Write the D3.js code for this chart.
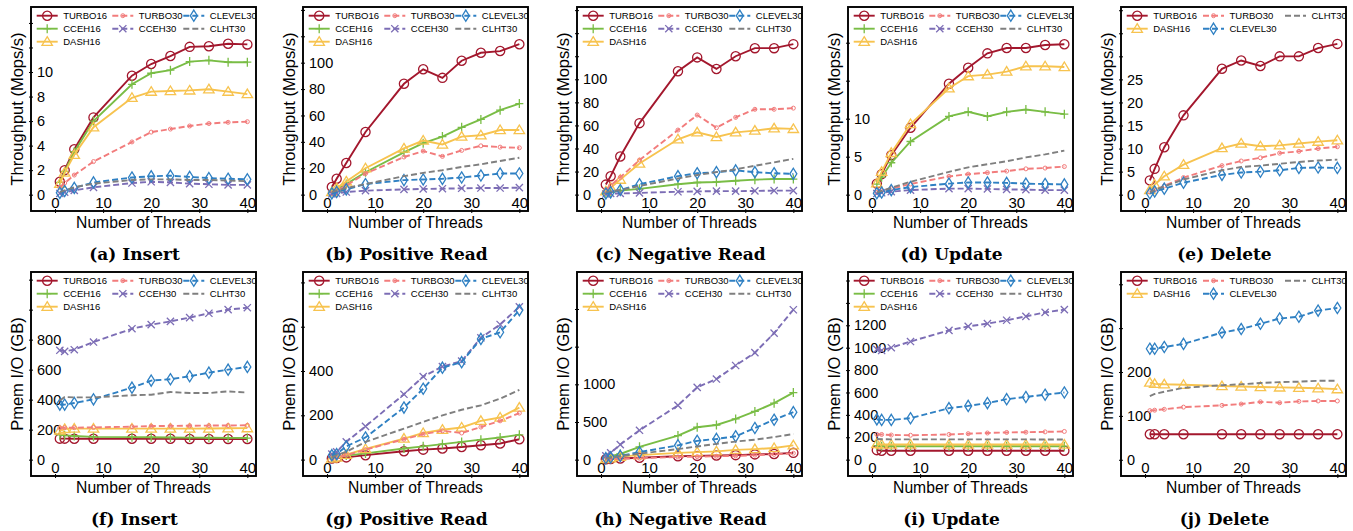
<!DOCTYPE html>
<html>
<head>
<meta charset="utf-8">
<script src="https://cdnjs.cloudflare.com/ajax/libs/d3/7.8.5/d3.min.js"></script>
<style>
  body { margin: 0; background: #fff; }
  svg text { font-family: "Liberation Sans", Arial, sans-serif; fill: #000; }
  .caption { font-family: "DejaVu Serif", serif; font-weight: bold; font-size: 17px; }
</style>
</head>
<body>
<svg id="chart"></svg>
<script>
//Data
const threads = [1, 2, 4, 8, 16, 20, 24, 28, 32, 36, 40];
const xTicks = [0, 10, 20, 30, 40];
const seriesNames = ["TURBO16", "CCEH16", "DASH16", "TURBO30", "CCEH30", "CLEVEL30", "CLHT30"];
const captions = ["(a) Insert", "(b) Positive Read", "(c) Negative Read", "(d) Update", "(e) Delete",
                  "(f) Insert", "(g) Positive Read", "(h) Negative Read", "(i) Update", "(j) Delete"];

// throughput (Mops/s) - one row per series, same order as seriesNames (null = not run)
const insertTput = [
    [1.05, 2.0, 3.7, 6.3, 9.7, 10.65, 11.3, 12.05, 12.1, 12.3, 12.25],
    [1.0, 1.9, 3.5, 6.0, 9.0, 9.9, 10.15, 10.85, 10.95, 10.8, 10.8],
    [0.9, 1.8, 3.25, 5.5, 7.9, 8.4, 8.45, 8.5, 8.6, 8.4, 8.2],
    [0.6, 0.95, 1.6, 2.7, 4.3, 5.1, 5.35, 5.6, 5.8, 5.9, 5.95],
    [0.1, 0.2, 0.35, 0.6, 0.95, 1.05, 1.0, 0.9, 0.85, 0.8, 0.8],
    [0.15, 0.3, 0.55, 1.0, 1.4, 1.5, 1.55, 1.45, 1.35, 1.3, 1.25],
    [0.2, 0.35, 0.6, 0.9, 1.2, 1.25, 1.25, 1.2, 1.2, 1.15, 1.1]
];
const posReadTput = [
    [5.8, 12, 24, 47.5, 84, 95, 88.5, 101.5, 107.5, 108.8, 114],
    [2, 4, 8, 17, 32, 39, 44, 51, 57, 64, 69],
    [2, 5, 10, 20, 35, 41, 38, 44, 45, 49, 49],
    [1, 3, 7, 16, 28.5, 33, 29, 33.5, 37, 36, 35.5],
    [0.5, 1, 2, 3, 4, 4.3, 4.5, 4.8, 5, 5, 5.3],
    [1, 2, 4, 8, 11, 11.5, 12, 13, 14.5, 16, 16],
    [2, 3, 5, 8, 14, 16.5, 18.5, 21, 23, 25.5, 28]
];
const negReadTput = [
    [8.7, 16, 33, 62, 107, 119, 109, 120, 127, 127, 130.5],
    [1, 2, 3.5, 5, 9, 10.5, 11, 12, 13, 13.5, 13.5],
    [3, 6, 13, 27, 48, 54, 50, 54, 55.5, 57.5, 57],
    [4, 8, 15, 30, 56, 69, 58, 67, 74, 74, 75],
    [0.5, 1, 1, 1.5, 2.5, 2.8, 3, 3, 3.2, 3.5, 3.5],
    [1, 2, 4, 9, 16, 18.5, 19.5, 21, 19.5, 18.5, 18],
    [2, 3, 4, 7.5, 14, 17, 19.5, 22, 25, 28, 31]
];
const updateTput = [
    [1.45, 2.7, 5.2, 8.8, 14.6, 16.7, 18.6, 19.3, 19.3, 19.7, 19.8],
    [1.4, 2.3, 4.2, 7.0, 10.3, 10.9, 10.3, 10.9, 11.2, 10.9, 10.6],
    [1.5, 3.0, 5.5, 9.3, 14.0, 15.6, 15.8, 16.2, 16.9, 16.9, 16.8],
    [0.3, 0.5, 0.8, 1.4, 2.4, 2.7, 2.9, 3.1, 3.4, 3.5, 3.7],
    [0.15, 0.25, 0.4, 0.6, 0.8, 0.8, 0.75, 0.7, 0.65, 0.6, 0.6],
    [0.2, 0.3, 0.6, 1.0, 1.45, 1.6, 1.6, 1.55, 1.45, 1.4, 1.35],
    [0.3, 0.5, 0.9, 1.7, 3.0, 3.6, 4.0, 4.4, 4.9, 5.3, 5.8]
];
const deleteTput = [
    [3.1, 5.6, 10.3, 17.2, 27.3, 29.1, 27.9, 30.0, 30.0, 31.8, 32.7],
    null,
    [1.0, 2.2, 4.0, 6.5, 10.1, 11.1, 10.5, 10.7, 11.1, 11.5, 11.8],
    [0.6, 1.0, 1.9, 3.7, 6.3, 7.3, 8.0, 9.0, 9.4, 10.0, 10.4],
    null,
    [0.3, 0.7, 1.3, 2.6, 4.3, 4.8, 5.0, 5.3, 5.8, 5.9, 5.8],
    [0.5, 1.0, 1.8, 3.3, 5.3, 6.0, 6.3, 6.7, 7.1, 7.4, 7.6]
];

// pmem I/O (GB)
const insertIO = [
    [140, 140, 139, 139, 139, 139, 139, 138, 138, 138, 138],
    [165, 162, 158, 152, 150, 149, 148, 147, 146, 145, 144],
    [195, 205, 207, 207, 207, 207, 207, 207, 208, 209, 210],
    [213, 213, 213, 215, 220, 224, 225, 226, 227, 228, 229],
    [729, 722, 733, 784, 873, 900, 922, 947, 976, 1000, 1013],
    [367, 367, 378, 402, 480, 527, 536, 556, 580, 600, 618],
    [395, 418, 415, 415, 429, 433, 451, 444, 444, 455, 447]
];
const posReadIO = [
    [5, 7, 10, 20, 38, 45, 50, 57, 65, 73, 92],
    [8, 12, 18, 28, 50, 60, 70, 80, 90, 100, 112],
    [5, 10, 22, 48, 95, 120, 135, 145, 175, 190, 235],
    [5, 10, 20, 45, 92, 115, 130, 120, 147, 175, 210],
    [25, 35, 80, 150, 295, 375, 420, 445, 550, 610, 690],
    [20, 25, 60, 100, 235, 320, 415, 440, 545, 575, 675],
    [10, 20, 35, 80, 140, 170, 200, 225, 245, 275, 315]
];
const negReadIO = [
    [5, 8, 15, 25, 45, 50, 55, 60, 70, 75, 90],
    [30, 45, 75, 170, 320, 430, 460, 540, 640, 750, 890],
    [10, 20, 40, 60, 90, 100, 110, 130, 140, 155, 190],
    [5, 8, 12, 20, 35, 40, 45, 50, 60, 70, 85],
    [50, 90, 200, 390, 720, 960, 1070, 1250, 1420, 1680, 1990],
    [20, 30, 50, 100, 190, 250, 275, 310, 420, 530, 630],
    [15, 25, 45, 80, 140, 175, 210, 240, 265, 300, 340]
];
const updateIO = [
    [85, 80, 80, 80, 80, 80, 80, 80, 80, 80, 80],
    [125, 120, 120, 120, 120, 120, 120, 120, 120, 120, 120],
    [140, 135, 135, 135, 135, 135, 135, 135, 135, 135, 135],
    [225, 225, 220, 218, 225, 232, 238, 243, 245, 248, 252],
    [985, 975, 1000, 1055, 1155, 1190, 1215, 1245, 1280, 1315, 1340],
    [360, 355, 355, 370, 460, 480, 505, 540, 560, 580, 600],
    [185, 182, 181, 181, 181, 181, 181, 181, 181, 180, 180]
];
const deleteIO = [
    [58, 58, 58, 58, 58, 58, 58, 58, 58, 58, 58],
    null,
    [176, 173, 172, 171, 168, 167, 166, 165, 164, 163, 161],
    [112, 113, 115, 120, 124, 127, 132, 130, 133, 134, 134],
    null,
    [253, 253, 257, 264, 290, 298, 310, 322, 326, 340, 346],
    [145, 150, 155, 164, 170, 172, 175, 177, 178, 180, 180]
];

// y axis setup per panel: domain, tick step, highest labelled tick
const yDomains = [[-1.33, 15.3], [-12.4, 142.2], [-14.2, 162.7], [-2.15, 24.7], [-3.54, 40.7],
                  [-109, 1251], [-74, 847], [-217, 2491], [-146, 1676], [-37, 428]];
const ySteps = [2, 20, 20, 5, 5, 200, 200, 500, 200, 100];
const yLabelMax = [10, 100, 100, 10, 25, 800, 400, 1000, 1200, 200];

const panelData = [insertTput, posReadTput, negReadTput, updateTput, deleteTput,
                   insertIO, posReadIO, negReadIO, updateIO, deleteIO];

//Styles
const seriesStyle = {
    TURBO16:  {color: '#a3172d', dash: null,  marker: 'circle'},
    CCEH16:   {color: '#79bd45', dash: null,  marker: 'plus'},
    DASH16:   {color: '#f7c34f', dash: null,  marker: 'triangle'},
    TURBO30:  {color: '#f27c7c', dash: '6,3', marker: 'dot'},
    CCEH30:   {color: '#7c6db5', dash: '6,3', marker: 'cross'},
    CLEVEL30: {color: '#2f80c3', dash: '6,3', marker: 'diamond'},
    CLHT30:   {color: '#7f7f7f', dash: '6,3', marker: null}
};

//Canvas
let width = 1353;
let height = 531;
let frameLefts = [31, 303, 577, 848, 1121];
let rowTops = [7, 272];
let frameW = 225;
let frameH = 204;

let svg = d3.select('#chart').attr('width', width).attr('height', height);

//draws one marker shape centred at 0,0
let drawMarker = (sel, type, color) => {
    if (type === 'circle') {
        sel.append('circle').attr('r', 4.6).attr('fill', 'none')
            .attr('stroke', color).attr('stroke-width', 1.3);
    } else if (type === 'dot') {
        sel.append('circle').attr('r', 2).attr('fill', 'none')
            .attr('stroke', color).attr('stroke-width', 1);
    } else if (type === 'plus') {
        sel.append('path').attr('d', 'M-4,0H4M0,-4.5V4.5')
            .attr('stroke', color).attr('stroke-width', 1.3);
    } else if (type === 'cross') {
        sel.append('path').attr('d', 'M-3.6,-3.6L3.6,3.6M-3.6,3.6L3.6,-3.6')
            .attr('stroke', color).attr('stroke-width', 1.3);
    } else if (type === 'triangle') {
        sel.append('path').attr('d', 'M0,-5L5.2,3.6L-5.2,3.6Z').attr('fill', 'none')
            .attr('stroke', color).attr('stroke-width', 1.3);
    } else if (type === 'diamond') {
        sel.append('path').attr('d', 'M0,-5.6L3.5,0L0,5.6L-3.5,0Z').attr('fill', 'none')
            .attr('stroke', color).attr('stroke-width', 1.3);
    }
}

panelData.forEach((rows, i) => {
    let left = frameLefts[i % 5];
    let top = rowTops[Math.floor(i / 5)];
    let g = svg.append('g').attr('transform', 'translate(' + left + ',' + top + ')');

    let xScale = d3.scaleLinear().domain([-5, 41.8]).range([0, frameW]);
    let yScale = d3.scaleLinear().domain(yDomains[i]).range([frameH, 0]);

    //y axis: ticks cross the frame, labels sit inside
    let yTicks = d3.range(0, yDomains[i][1], ySteps[i]);
    let gY = g.append('g')
        .call(d3.axisLeft(yScale).tickValues(yTicks)
            .tickFormat(d => d <= yLabelMax[i] ? d : ''))
        .attr('font-size', 14.5)
        .attr('font-family', null);
    gY.select('.domain').remove();
    gY.selectAll('line').attr('x1', -2).attr('x2', 2).attr('stroke', '#000');
    gY.selectAll('text').attr('x', 6).attr('text-anchor', 'start');

    //x axis
    let gX = g.append('g')
        .attr('transform', 'translate(0,' + frameH + ')')
        .call(d3.axisBottom(xScale).tickValues(xTicks))
        .attr('font-size', 15)
        .attr('font-family', null);
    gX.select('.domain').remove();
    gX.selectAll('line').attr('y1', -2).attr('y2', 2).attr('stroke', '#000');
    gX.selectAll('text').attr('y', -3).attr('dy', 0);

    //series
    let line = d3.line()
        .x((d, k) => xScale(threads[k]))
        .y(d => yScale(d));

    let shown = seriesNames.filter((name, s) => rows[s] !== null);

    seriesNames.forEach((name, s) => {
        let vals = rows[s];
        if (vals === null) return;
        let st = seriesStyle[name];
        g.append('path')
            .datum(vals)
            .attr('d', line)
            .attr('fill', 'none')
            .attr('stroke', st.color)
            .attr('stroke-width', 1.9)
            .attr('stroke-dasharray', st.dash);
        if (st.marker) {
            vals.forEach((v, k) => {
                let m = g.append('g')
                    .attr('transform', 'translate(' + xScale(threads[k]) + ',' + yScale(v) + ')');
                drawMarker(m, st.marker, st.color);
            });
        }
    });

    //frame on top of the lines
    g.append('rect')
        .attr('width', frameW)
        .attr('height', frameH)
        .attr('fill', 'none')
        .attr('stroke', '#000')
        .attr('stroke-width', 1.9);

    //legend, filled column by column like matplotlib ncol=3
    let nRows = Math.ceil(shown.length / 3);
    let bigCols = shown.length % 3 === 0 ? 3 : shown.length % 3;
    let colX = shown.length === 7 ? [5.7, 81.3, 152.3] : [5.7, 82, 164];
    let idx = 0;
    for (let c = 0; c < 3; c++) {
        let count = c < bigCols ? nRows : nRows - 1;
        for (let r = 0; r < count; r++) {
            let name = shown[idx++];
            let st = seriesStyle[name];
            let ly = 8.7 + r * 13;
            let lg = g.append('g').attr('transform', 'translate(' + colX[c] + ',' + ly + ')');
            lg.append('line')
                .attr('x1', 0).attr('x2', 21)
                .attr('stroke', st.color)
                .attr('stroke-width', 1.9)
                .attr('stroke-dasharray', st.dash);
            if (st.marker) {
                drawMarker(lg.append('g').attr('transform', 'translate(10.5,0)'), st.marker, st.color);
            }
            lg.append('text')
                .attr('x', 26.5)
                .attr('y', 0)
                .attr('dy', '0.35em')
                .style('font-size', '9.5px')
                .text(name);
        }
    }

    //axis titles
    g.append('text')
        .attr('transform', 'rotate(-90)')
        .attr('x', -frameH / 2)
        .attr('y', -8.5)
        .attr('text-anchor', 'middle')
        .style('font-size', '16.5px')
        .text(i < 5 ? 'Throughput (Mops/s)' : 'Pmem I/O (GB)');

    g.append('text')
        .attr('x', frameW / 2)
        .attr('y', frameH + 17)
        .attr('text-anchor', 'middle')
        .style('font-size', '15.7px')
        .text('Number of Threads');

    //caption
    g.append('text')
        .attr('class', 'caption')
        .attr('x', 103.5)
        .attr('y', 253)
        .attr('text-anchor', 'middle')
        .text(captions[i]);
});
</script>
</body>
</html>
